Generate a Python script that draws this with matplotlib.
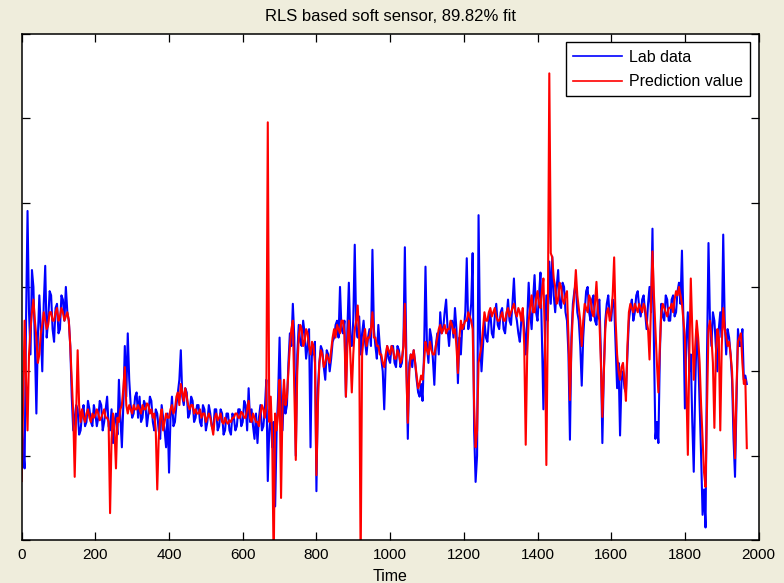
import numpy as np
import matplotlib
matplotlib.use("Agg")
import matplotlib.pyplot as plt

# RLS soft sensor: lab measurements vs. model prediction (read every 4 time steps)
sample_step = 4

lab_data = [
    1.5, 1.1, 0.85, 2.6, 3.9, 2.7, 2.2, 3.2, 3.0, 2.3, 1.5, 2.4, 2.9, 2.5, 2.0, 2.8, 3.25, 2.4, 2.6, 2.95,
    2.9, 2.5, 2.35, 2.75, 2.8, 2.45, 2.5, 2.9, 2.85, 2.6, 3.0, 2.7, 2.6, 2.3, 1.7, 1.3, 1.45, 1.6, 1.55, 1.25,
    1.3, 1.5, 1.6, 1.35, 1.4, 1.65, 1.55, 1.4, 1.35, 1.6, 1.5, 1.35, 1.45, 1.65, 1.6, 1.3, 1.4, 1.55, 1.7, 1.35,
    1.3, 1.55, 1.15, 1.4, 1.5, 1.25, 1.9, 1.45, 1.1, 1.6, 2.3, 1.7, 2.45, 1.9, 1.6, 1.45, 1.5, 1.7, 1.75, 1.45,
    1.7, 1.4, 1.45, 1.65, 1.6, 1.35, 1.5, 1.7, 1.65, 1.4, 1.3, 1.55, 1.5, 1.3, 1.2, 1.6, 1.45, 1.3, 1.1, 1.5,
    0.8, 1.45, 1.7, 1.35, 1.4, 1.6, 1.75, 1.9, 2.25, 1.7, 1.6, 1.8, 1.75, 1.45, 1.5, 1.7, 1.65, 1.4, 1.45, 1.6,
    1.6, 1.4, 1.35, 1.6, 1.55, 1.3, 1.4, 1.6, 1.5, 1.35, 1.3, 1.55, 1.55, 1.3, 1.35, 1.55, 1.5, 1.25, 1.3, 1.5,
    1.5, 1.3, 1.25, 1.5, 1.45, 1.3, 1.35, 1.55, 1.55, 1.35, 1.4, 1.65, 1.6, 1.3, 1.8, 1.4, 1.55, 1.35, 1.2, 1.5,
    1.15, 1.45, 1.6, 1.3, 1.35, 1.55, 1.9, 0.7, 1.3, 1.5, 1.1, 1.4, 0.4, 1.3, 1.7, 2.4, 1.6, 1.3, 1.8, 1.5,
    1.6, 2.1, 2.45, 2.3, 2.8, 2.4, 1.0, 2.2, 2.55, 2.35, 2.3, 2.6, 2.45, 2.15, 2.3, 2.5, 1.1, 2.3, 2.2, 2.35,
    0.58, 1.8, 2.1, 2.3, 2.25, 2.05, 1.9, 2.25, 2.2, 2.0, 2.15, 2.35, 2.4, 2.55, 2.6, 2.4, 3.0, 2.5, 2.45, 2.6,
    1.7, 2.5, 3.05, 2.4, 2.3, 2.6, 3.5, 2.5, 2.4, 2.65, 2.2, 2.45, 2.6, 2.35, 2.2, 2.4, 2.5, 2.3, 3.44, 2.5,
    2.3, 2.15, 2.55, 2.3, 2.15, 2.0, 1.55, 2.1, 2.3, 2.15, 2.1, 2.3, 2.3, 2.1, 2.05, 2.3, 2.25, 2.05, 2.1, 2.3,
    3.47, 2.2, 1.2, 2.1, 2.2, 2.05, 2.25, 2.1, 1.9, 1.75, 1.7, 1.85, 1.65, 2.2, 3.24, 2.3, 2.1, 2.5, 2.4, 2.15,
    1.84, 2.3, 2.45, 2.2, 2.7, 2.45, 2.5, 2.7, 2.85, 2.5, 2.3, 2.55, 2.6, 2.4, 2.75, 2.5, 1.86, 2.4, 2.2, 2.55,
    2.5, 2.7, 3.34, 2.5, 2.6, 2.8, 3.4, 1.3, 0.69, 1.0, 3.85, 2.4, 2.0, 2.3, 2.6, 2.4, 2.35, 2.6, 2.7, 2.45,
    2.4, 2.65, 2.8, 2.55, 2.5, 2.7, 2.75, 2.5, 2.45, 2.65, 2.85, 2.6, 2.55, 2.8, 3.1, 2.7, 2.6, 2.45, 2.35, 2.6,
    2.7, 2.5, 2.2, 2.6, 3.05, 2.7, 2.5, 2.85, 3.14, 2.7, 2.6, 2.9, 3.17, 2.4, 1.55, 2.3, 2.9, 2.6, 3.3, 2.8,
    3.36, 2.9, 2.7, 3.0, 3.2, 2.8, 2.75, 3.05, 3.0, 2.7, 2.6, 2.2, 1.19, 2.4, 2.8, 2.95, 3.05, 2.7, 2.6, 2.3,
    1.83, 2.4, 2.7, 2.95, 3.0, 2.7, 2.6, 2.85, 2.9, 2.6, 2.55, 2.8, 2.85, 2.2, 1.15, 2.0, 2.6, 2.8, 2.9, 2.65,
    2.6, 2.85, 2.8, 2.3, 1.8, 2.1, 1.24, 1.9, 2.0, 1.8, 1.75, 2.2, 2.6, 2.75, 2.85, 2.6, 2.7, 2.9, 2.95, 2.75,
    2.65, 2.85, 2.9, 2.7, 2.5, 2.8, 3.0, 2.7, 3.69, 2.3, 1.2, 1.4, 1.15, 2.2, 2.8, 2.65, 2.6, 2.9, 2.85, 2.6,
    2.6, 2.85, 2.9, 2.65, 2.7, 2.95, 3.05, 2.8, 3.43, 2.6, 1.56, 2.4, 2.7, 2.0, 2.2, 1.4, 0.81, 1.8, 2.5, 2.2,
    1.6, 1.0, 0.3, 0.6, 0.15, 2.2, 3.52, 2.6, 2.3, 2.7, 2.6, 2.3, 2.0, 2.5, 2.7, 2.4, 3.62, 2.6, 2.2, 2.5,
    2.4, 2.2, 1.9, 1.2, 0.75, 1.6, 2.5, 2.3, 2.3, 2.5, 1.9, 1.95, 1.85,
]

prediction = [
    0.7, 1.6, 2.6, 1.9, 1.3, 2.2, 2.5, 2.7, 2.85, 2.6, 2.4, 2.1, 2.2, 2.45, 2.55, 2.7, 2.6, 2.5, 2.55, 2.7,
    2.7, 2.6, 2.6, 2.7, 2.75, 2.6, 2.65, 2.75, 2.7, 2.6, 2.65, 2.7, 2.6, 2.3, 1.9, 1.5, 0.75, 1.5, 2.25, 1.6,
    1.4, 1.55, 1.45, 1.4, 1.5, 1.55, 1.45, 1.4, 1.5, 1.45, 1.48, 1.55, 1.5, 1.42, 1.45, 1.5, 1.55, 1.45, 1.45, 1.4,
    0.32, 1.2, 1.5, 1.3, 0.85, 1.45, 1.4, 1.55, 1.6, 1.8, 2.05, 1.6, 1.5, 1.6, 1.55, 1.5, 1.6, 1.55, 1.55, 1.6,
    1.55, 1.5, 1.6, 1.55, 1.55, 1.62, 1.6, 1.5, 1.55, 1.45, 1.5, 1.3, 0.6, 1.2, 1.45, 1.55, 1.3, 1.4, 1.5, 1.45,
    1.45, 1.55, 1.6, 1.5, 1.55, 1.7, 1.75, 1.6, 1.85, 1.75, 1.65, 1.8, 1.7, 1.6, 1.55, 1.6, 1.6, 1.5, 1.55, 1.5,
    1.5, 1.55, 1.45, 1.5, 1.5, 1.4, 1.45, 1.5, 1.45, 1.35, 1.25, 1.45, 1.5, 1.42, 1.45, 1.5, 1.4, 1.38, 1.45, 1.4,
    1.38, 1.42, 1.4, 1.45, 1.45, 1.5, 1.5, 1.45, 1.45, 1.52, 1.5, 1.45, 1.45, 1.55, 1.65, 1.45, 1.4, 1.5, 1.45, 1.4,
    1.4, 1.35, 1.5, 1.6, 1.55, 1.45, 1.6, 4.95, 1.4, 1.7, 1.2, -0.3, 1.5, 1.3, 1.5, 1.9, 0.5, 1.6, 1.9, 1.6,
    1.7, 2.0, 2.3, 2.5, 2.6, 1.8, 0.95, 2.0, 2.4, 2.55, 2.5, 2.3, 2.35, 2.5, 2.45, 2.3, 2.2, 2.35, 2.3, 2.1,
    0.77, 1.6, 2.1, 2.25, 2.2, 2.05, 2.1, 2.2, 2.15, 2.1, 2.25, 2.4, 2.5, 2.4, 2.55, 2.5, 2.45, 2.6, 2.6, 2.45,
    1.7, 2.3, 2.6, 2.2, 1.75, 2.2, 2.5, 2.6, 2.78, 2.4, -0.3, 2.2, 2.4, 2.5, 2.3, 2.4, 2.4, 2.5, 2.7, 2.4,
    2.4, 2.3, 2.3, 2.2, 2.2, 2.1, 2.05, 2.2, 2.3, 2.25, 2.2, 2.3, 2.25, 2.15, 2.15, 2.25, 2.2, 2.1, 2.15, 2.3,
    2.8, 2.0, 1.39, 2.0, 2.2, 2.15, 2.25, 2.1, 1.95, 1.8, 1.85, 1.95, 1.9, 2.1, 2.35, 2.25, 2.2, 2.35, 2.25, 2.2,
    2.2, 2.3, 2.4, 2.5, 2.55, 2.45, 2.5, 2.55, 2.45, 2.5, 2.5, 2.6, 2.55, 2.45, 2.5, 2.3, 1.98, 2.4, 2.6, 2.5,
    2.55, 2.6, 2.6, 2.7, 2.65, 2.6, 2.5, 1.6, 1.1, 1.3, 2.1, 2.2, 2.3, 2.5, 2.7, 2.6, 2.6, 2.7, 2.75, 2.65,
    2.7, 2.75, 2.65, 2.6, 2.6, 2.65, 2.7, 2.6, 2.6, 2.7, 2.75, 2.65, 2.7, 2.75, 2.8, 2.7, 2.65, 2.75, 2.7, 2.6,
    2.75, 2.3, 1.13, 2.2, 2.6, 2.75, 2.9, 2.7, 2.7, 2.85, 2.95, 2.8, 2.75, 2.95, 3.1, 2.4, 0.89, 2.6, 5.53, 3.4,
    3.35, 3.1, 3.0, 2.8, 2.85, 3.05, 3.0, 2.85, 2.8, 2.9, 2.95, 2.4, 1.66, 2.3, 2.7, 2.9, 3.2, 2.9, 2.75, 2.6,
    2.3, 2.6, 2.8, 2.75, 2.7, 2.9, 2.85, 2.7, 2.65, 2.8, 3.06, 2.7, 2.6, 2.1, 1.46, 2.0, 2.5, 2.7, 2.75, 2.6,
    2.7, 2.9, 3.35, 2.6, 2.2, 2.0, 1.9, 2.05, 2.1, 1.9, 1.65, 2.3, 2.7, 2.8, 2.75, 2.7, 2.8, 2.75, 2.7, 2.8,
    2.75, 2.7, 2.8, 2.75, 2.6, 2.5, 2.14, 2.8, 3.42, 2.9, 2.5, 2.1, 1.75, 2.3, 2.7, 2.8, 2.75, 2.7, 2.65, 2.75,
    2.75, 2.8, 2.7, 2.85, 2.95, 2.9, 3.0, 2.9, 2.8, 2.6, 2.4, 1.8, 1.01, 2.2, 3.1, 2.5, 1.9, 2.3, 2.6, 2.4,
    2.1, 1.6, 1.2, 0.8, 0.63, 1.6, 2.5, 2.6, 2.4, 2.1, 1.33, 2.2, 2.5, 2.4, 1.3, 2.3, 2.75, 2.5, 2.4, 2.3,
    2.35, 2.2, 2.0, 1.5, 0.97, 1.8, 2.35, 2.4, 2.45, 2.1, 1.85, 1.9, 1.09,
]

time_lab = np.arange(len(lab_data)) * sample_step
time_pred = np.arange(len(prediction)) * sample_step

plt.rcParams['font.family'] = ['Liberation Sans', 'DejaVu Sans']

fig = plt.figure(figsize=(7.84, 5.83), dpi=100, facecolor='#EFEDDC')
ax = fig.add_axes([0.0276, 0.0735, 0.9400, 0.8687])

ax.plot(time_lab, lab_data, color='#0000FF', lw=1.5, label='Lab data')
ax.plot(time_pred, prediction, color='#FF0000', lw=1.5, label='Prediction value')

ax.set_xlim(0, 2000)
ax.set_ylim(0, 6)
ax.set_xticks(np.arange(0, 2001, 200))
ax.set_yticks(np.arange(0, 7, 1))
ax.set_yticklabels([])
ax.tick_params(direction='in', length=5.5, width=0.9, top=True, right=True,
               labelsize=11, pad=6)
for s in ax.spines.values():
    s.set_linewidth(1.1)

ax.set_title('RLS based soft sensor, 89.82% fit', fontsize=12, pad=9)
ax.set_xlabel('Time', fontsize=11.5, labelpad=5)

leg = ax.legend(loc='upper right', fontsize=11.5, fancybox=False, framealpha=1,
                edgecolor='black', handlelength=3.1, handletextpad=0.4,
                borderaxespad=0.55, borderpad=0.45, labelspacing=0.6)
leg.get_frame().set_linewidth(1.0)
for line in leg.get_lines():
    line.set_linewidth(1.2)

fig.savefig('out.png', dpi=100, facecolor=fig.get_facecolor())
